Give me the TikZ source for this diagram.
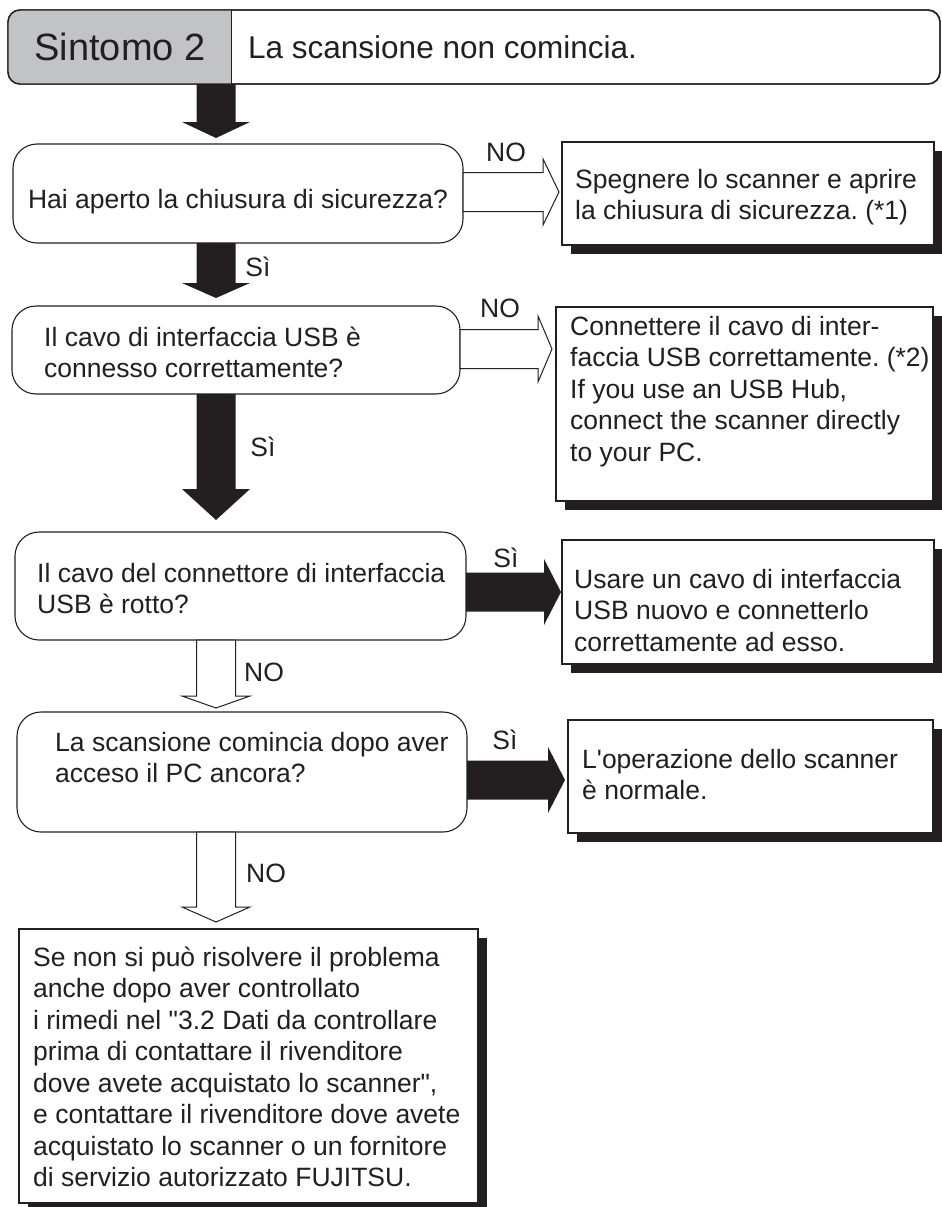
\documentclass[tikz,border=0pt]{standalone}
\usepackage{fontspec}
\setmainfont{Liberation Sans}
\usetikzlibrary{calc,shadows}
\definecolor{ink}{HTML}{231F20}
\definecolor{hdgray}{HTML}{C2C3C5}
\newcommand{\bodyfont}{\fontsize{26.5}{31.5}\selectfont}
% vertical block arrow: style, from, tip, head length
\newcommand{\varr}[4]{\path[#1] let \p1=(#2), \p2=(#3) in
  (\x2-19.5pt,\y1) -- (\x2-19.5pt,\y2+#4) -- (\x2-34pt,\y2+#4) -- (\x2,\y2)
  -- (\x2+34pt,\y2+#4) -- (\x2+19.5pt,\y2+#4) -- (\x2+19.5pt,\y1) -- cycle;}
% horizontal block arrow: style, from, tip, head length
\newcommand{\harr}[4]{\path[#1] let \p1=(#2), \p2=(#3) in
  (\x1,\y2+19.5pt) -- (\x2-#4,\y2+19.5pt) -- (\x2-#4,\y2+33pt) -- (\x2,\y2)
  -- (\x2-#4,\y2-33pt) -- (\x2-#4,\y2-19.5pt) -- (\x1,\y2-19.5pt) -- cycle;}
\begin{document}
\frenchspacing
\begin{tikzpicture}[x=1pt,y=-1pt,
  box/.style={draw=ink, line width=1.1pt, fill=white, inner sep=0pt, outer sep=0pt},
  decision/.style={box, rounded corners=24pt},
  result/.style={box, drop shadow={shadow xshift=9pt, shadow yshift=-9pt, fill=ink, opacity=1}},
  txt/.style={font=\bodyfont, align=left, inner sep=0pt, anchor=north west, text=ink},
  lbl/.style={font=\bodyfont, inner sep=0pt, text=ink},
  blk/.style={fill=ink},
  hol/.style={draw=ink, line width=1pt, fill=white, line join=miter},
]
\useasboundingbox (0,0) rectangle (942,1207);

% header
\node[box, rounded corners=12pt, line width=1.4pt, minimum width=932pt, minimum height=74pt] (hd) at (474,47) {};
\begin{scope}
  \clip (0,0) rectangle (231,100);
  \fill[hdgray, rounded corners=12pt] (hd.north west) rectangle (hd.south east);
\end{scope}
\draw[ink, line width=1.4pt, rounded corners=12pt] (hd.north west) rectangle (hd.south east);
\coordinate (dv) at (231,47);
\draw[ink, line width=1pt] (dv |- hd.north) -- (dv |- hd.south);
\node[font=\fontsize{38}{40}\selectfont, inner sep=0pt, text=ink] (hs) at (120,47) {Sintomo 2};
\node[font=\fontsize{31.5}{36}\selectfont, inner sep=0pt, anchor=west, text=ink] (ht) at (248,47) {La scansione non comincia.};

% decision boxes
\node[decision, minimum width=450pt, minimum height=99pt] (d1) at (238,193.5) {};
\node[decision, minimum width=448pt, minimum height=88pt] (d2) at (236,350) {};
\node[decision, minimum width=451pt, minimum height=108pt] (d3) at (240.5,586) {};
\node[decision, minimum width=450pt, minimum height=120pt] (d4) at (242,772) {};

% result boxes
\node[result, minimum width=372pt, minimum height=103pt] (b1) at (748,193.5) {};
\node[result, minimum width=377pt, minimum height=194pt] (b2) at (744.5,404) {};
\node[result, minimum width=372pt, minimum height=124pt] (b3) at (748,602) {};
\node[result, minimum width=365pt, minimum height=113pt] (b4) at (750.5,776.5) {};
\node[result, minimum width=459pt, minimum height=274pt] (fb) at (248.5,1066) {};

% texts
\node[txt, anchor=north] (t1) at (238,186) {\strut Hai aperto la chiusura di sicurezza?};
\node[txt] (t2) at (44,324) {\strut Il cavo di interfaccia USB è\\connesso correttamente?};
\node[txt] (t3) at (37,560) {\strut Il cavo del connettore di interfaccia\\USB è rotto?};
\node[txt] (t4) at (55,729) {\strut La scansione comincia dopo aver\\acceso il PC ancora?};
\node[txt] (r1) at (575,166) {\strut Spegnere lo scanner e aprire\\la chiusura di sicurezza. (*1)};
\node[txt] (r2) at (570,313) {\strut Connettere il cavo di inter-\\faccia USB correttamente. (*2)\\If you use an USB Hub,\\connect the scanner directly\\to your PC.};
\node[txt] (r3) at (574,566) {\strut Usare un cavo di interfaccia\\USB nuovo e connetterlo\\correttamente ad esso.};
\node[txt] (r4) at (582,746) {\strut L\textquotesingle operazione dello scanner\\è normale.};
\node[txt] (ft) at (33,944) {\strut Se non si può risolvere il problema\\anche dopo aver controllato\\i rimedi nel \textquotedbl 3.2 Dati da controllare\\prima di contattare il rivenditore\\dove avete acquistato lo scanner\textquotedbl,\\e contattare il rivenditore dove avete\\acquistato lo scanner o un fornitore\\di servizio autorizzato FUJITSU.};

% vertical arrows
\coordinate (ax) at (216,0);
\varr{blk}{hd.south -| ax}{$(d1.north -| ax)+(0,-6)$}{16pt}
\varr{blk}{d1.south -| ax}{$(d2.north -| ax)+(0,-8)$}{15pt}
\varr{blk}{d2.south -| ax}{$(d3.north -| ax)+(0,-12)$}{31pt}
\varr{hol}{d3.south -| ax}{$(d4.north -| ax)+(0,-4)$}{12pt}
\varr{hol}{d4.south -| ax}{$(fb.north -| ax)+(0,-7)$}{15pt}

% horizontal arrows
\harr{hol}{d1.east}{$(b1.west |- d1.east)+(-3,-1.5)$}{16pt}
\harr{hol}{d2.east}{$(b2.west |- d2.east)+(-4,-1)$}{14pt}
\harr{blk}{d3.east}{$(b3.west |- d3.east)+(-1,6)$}{17pt}
\harr{blk}{d4.east}{$(b4.west |- d4.east)+(-3,8)$}{17pt}

% labels
\node[lbl] (no1) at (506,152) {NO};
\node[lbl] (no2) at (500,308) {NO};
\node[lbl] (si1) at (258,267) {Sì};
\node[lbl] (si2) at (263,447) {Sì};
\node[lbl] (no3) at (264,672) {NO};
\node[lbl] (si3) at (506,558) {Sì};
\node[lbl] (si4) at (505,740) {Sì};
\node[lbl] (no4) at (266,873) {NO};
\end{tikzpicture}
\end{document}
